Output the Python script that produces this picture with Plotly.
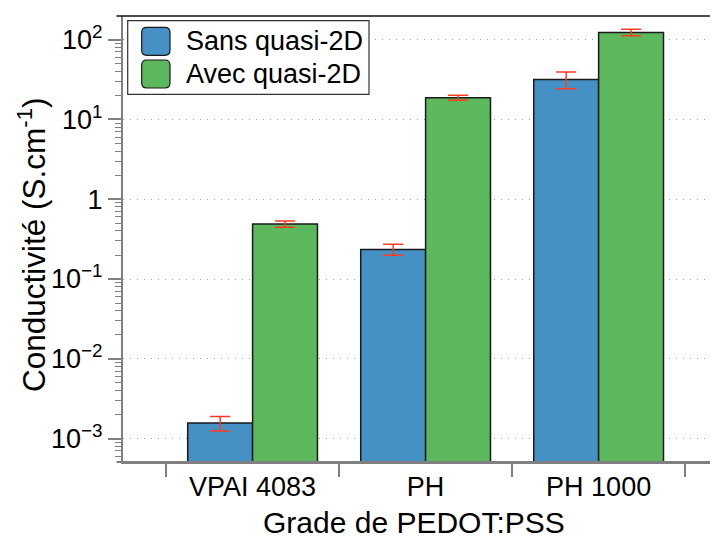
import plotly.graph_objects as go

# ---- data ----
categories = ["VPAI 4083", "PH", "PH 1000"]
series_names = ["Sans quasi-2D", "Avec quasi-2D"]
sans_values = [1.57e-3, 0.235, 31.7]
sans_errors = [3.2e-4, 0.037, 7.5]
avec_values = [0.49, 18.7, 123.0]
avec_errors = [0.045, 1.35, 11.5]
y_tick_values = [1e-3, 1e-2, 1e-1, 1, 10, 100]
y_tick_labels = ["10<sup>−3</sup>", "10<sup>−2</sup>", "10<sup>−1</sup>", "1",
                 "10<sup>1</sup>", "10<sup>2</sup>"]
x_title = "Grade de PEDOT:PSS"
y_title = "Conductivité (S.cm<sup>-1</sup>)"

# ---- styling ----
OFF = 8  # default page body margin
W, H = 718 - OFF, 538 - OFF
ML, MR, MT, MB = 123 - OFF, 0, 16 - OFF, 76
PW, PH_ = W - ML - MR, H - MT - MB
FONT = "Liberation Sans, Arial, Helvetica, sans-serif"
FS = 27
FS_XT = 30
FS_YT = 31.5
BLUE = "#4590c4"
GREEN = "#5cb85c"
RED = "#ff3b22"
GREY = "#808080"

fig = go.Figure()
for name, vals, errs, col in [
    (series_names[0], sans_values, sans_errors, BLUE),
    (series_names[1], avec_values, avec_errors, GREEN),
]:
    fig.add_trace(go.Bar(
        x=categories, y=vals, name=name, showlegend=False,
        marker=dict(color=col, line=dict(color="#1a1a1a", width=1.5)),
        error_y=dict(type="data", array=errs, visible=True, color=RED,
                     thickness=1.5, width=10),
    ))


def px2paper(x, y):
    """page pixel -> paper coords"""
    x -= OFF
    y -= OFF
    return (x - ML) / PW, (H - MB - y) / PH_


def rounded_rect(x0, y0, x1, y1, r):
    def P(x, y):
        a, b = px2paper(x, y)
        return f"{a:.5f},{b:.5f}"
    return (f"M {P(x0 + r, y0)} L {P(x1 - r, y0)} Q {P(x1, y0)} {P(x1, y0 + r)} "
            f"L {P(x1, y1 - r)} Q {P(x1, y1)} {P(x1 - r, y1)} "
            f"L {P(x0 + r, y1)} Q {P(x0, y1)} {P(x0, y1 - r)} "
            f"L {P(x0, y0 + r)} Q {P(x0, y0)} {P(x0 + r, y0)} Z")


shapes = []
a0, _ = px2paper(116.5, 0)
shapes.append(dict(type="line", xref="paper", yref="paper", x0=a0, x1=1,
                   y0=1, y1=1, line=dict(color="#111", width=1.5)))
shapes.append(dict(type="line", xref="paper", yref="paper", x0=a0, x1=1,
                   y0=0, y1=0, line=dict(color=GREY, width=2)))
# legend box
lx0, ly1 = px2paper(127.7, 20.7)
lx1, ly0 = px2paper(369, 94.3)
shapes.append(dict(type="rect", xref="paper", yref="paper", x0=lx0, x1=lx1,
                   y0=ly0, y1=ly1, fillcolor="white",
                   line=dict(color="#333", width=1.2), layer="above"))
annotations = []
for i, (name, col) in enumerate(zip(series_names, [BLUE, GREEN])):
    yt = 27.3 + i * 32.7
    shapes.append(dict(type="path", xref="paper", yref="paper",
                       path=rounded_rect(141.7, yt, 170, yt + 28, 5),
                       fillcolor=col, line=dict(color="#1a1a1a", width=1.2),
                       layer="above"))
    ax_, ay_ = px2paper(184, yt + 14)
    annotations.append(dict(xref="paper", yref="paper", x=ax_, y=ay_,
                            text=name, showarrow=False, xanchor="left",
                            yanchor="middle",
                            font=dict(family=FONT, size=FS, color="black")))

# axis titles
tx, ty = px2paper(414, 522)
annotations.append(dict(xref="paper", yref="paper", x=tx, y=ty, text=x_title,
                        showarrow=False, xanchor="center", yanchor="middle",
                        font=dict(family=FONT, size=FS_XT, color="black")))
tx, ty = px2paper(32, 245)
annotations.append(dict(xref="paper", yref="paper", x=tx, y=ty, text=y_title,
                        showarrow=False, xanchor="center", yanchor="middle",
                        textangle=-90,
                        font=dict(family=FONT, size=FS_YT, color="black")))

fig.update_layout(
    width=W, height=H,
    margin=dict(l=ML, r=MR, t=MT, b=MB, pad=0, autoexpand=False),
    paper_bgcolor="white", plot_bgcolor="white",
    font=dict(family=FONT, size=FS, color="black"),
    barmode="group", bargap=0.25, bargroupgap=0,
    shapes=shapes, annotations=annotations,
    xaxis=dict(
        range=[-0.749, 2.69], tickson="boundaries", automargin=False,
        ticks="outside", ticklen=13, tickwidth=1.5, tickcolor=GREY,
        showline=True, linecolor=GREY, linewidth=2,
        showgrid=False, zeroline=False,
        tickfont=dict(size=FS),
    ),
    yaxis=dict(
        type="log", range=[-3.293, 2.296], automargin=False,
        tickmode="array", tickvals=y_tick_values, ticktext=y_tick_labels,
        ticks="outside", ticklen=13, tickwidth=1.5, tickcolor=GREY,
        minor=dict(ticks="outside", ticklen=6, tickwidth=1.2,
                   tickcolor=GREY, dtick="D1", showgrid=False),
        showline=True, linecolor=GREY, linewidth=2,
        showgrid=True, gridcolor="#a0a0a0", gridwidth=1,
        griddash="1px,6px", zeroline=False,
        tickfont=dict(size=FS),
    ),
)

fig.write_html("out.html")
